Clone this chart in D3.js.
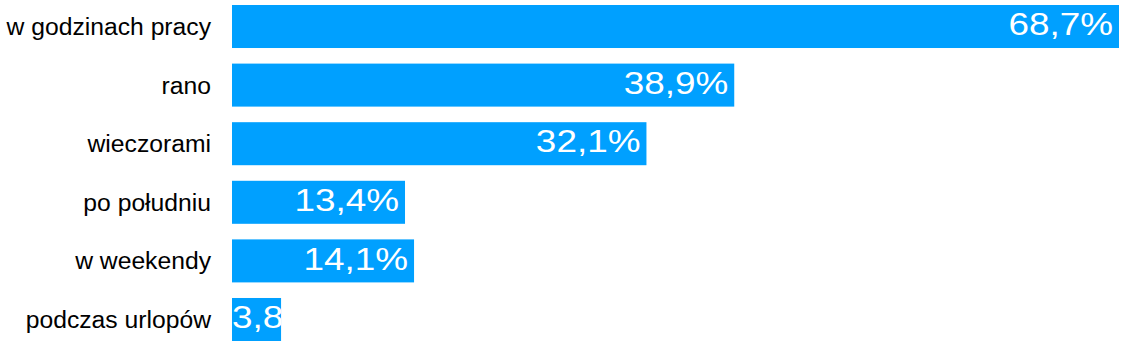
<!DOCTYPE html>
<html>
<head>
<meta charset="utf-8">
<script src="https://cdn.jsdelivr.net/npm/d3@7"></script>
<style>
  html, body { margin: 0; padding: 0; background: #fff; }
  svg { display: block; }
  text { font-family: "Liberation Sans", Arial, sans-serif; }
</style>
</head>
<body>
<script>
const categories = ["w godzinach pracy", "rano", "wieczorami", "po południu", "w weekendy", "podczas urlopów"];
const values = [68.7, 38.9, 32.1, 13.4, 14.1, 3.8];
const valueLabels = ["68,7%", "38,9%", "32,1%", "13,4%", "14,1%", "3,8%"];

const W = 1125, H = 346;
const svg = d3.select("body").append("svg").attr("width", W).attr("height", H);

const x = d3.scaleLinear().domain([0, 68.7]).range([232, 1119]);
const y = d3.scaleBand().domain(categories).range([5, 341]).paddingInner(0.266).paddingOuter(0);

const data = categories.map((c, i) => ({ c, v: values[i], t: valueLabels[i], i }));

const defs = svg.append("defs");
data.forEach(d => {
  defs.append("clipPath").attr("id", "clip" + d.i)
    .append("rect")
    .attr("x", x(0)).attr("y", y(d.c))
    .attr("width", x(d.v) - x(0)).attr("height", y.bandwidth());
});

svg.selectAll("rect.bar").data(data).join("rect")
  .attr("class", "bar")
  .attr("x", x(0))
  .attr("y", d => y(d.c))
  .attr("width", d => x(d.v) - x(0))
  .attr("height", y.bandwidth())
  .attr("fill", "#00a0ff");

// category labels
svg.selectAll("text.cat").data(data).join("text")
  .attr("class", "cat")
  .attr("text-anchor", "end")
  .attr("transform", d => `translate(211,${y(d.c) + y.bandwidth() / 2 + 8.5})`)
  .attr("font-size", 24.7)
  .attr("fill", "#000")
  .text(d => d.c);

// value labels
const sx = 1.19, pad = 6;
svg.selectAll("g.val").data(data).join("g")
  .attr("class", "val")
  .attr("clip-path", d => `url(#clip${d.i})`)
  .each(function (d) {
    const g = d3.select(this);
    const t = g.append("text")
      .attr("font-size", 31)
      .attr("fill", "#fff")
      .text(d.t);
    const w = t.node().getComputedTextLength() * sx;
    const barW = x(d.v) - x(0);
    const cy = y(d.c) + y.bandwidth() / 2 + 8.7;
    if (w + pad * 2 <= barW) {
      t.attr("text-anchor", "end")
        .attr("transform", `translate(${x(d.v) - pad},${cy}) scale(${sx},1)`);
    } else {
      t.attr("text-anchor", "start")
        .attr("transform", `translate(${x(0)},${cy}) scale(${sx},1)`);
    }
  });
</script>
</body>
</html>
